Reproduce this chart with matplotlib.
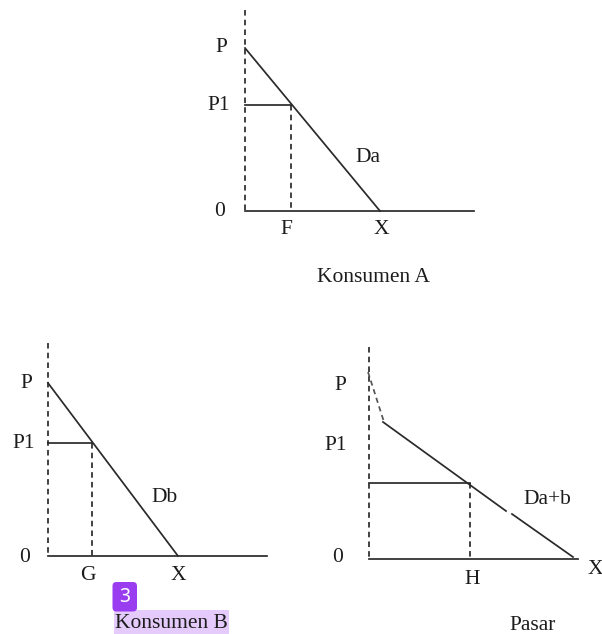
import matplotlib
matplotlib.use("Agg")
import matplotlib.pyplot as plt
from matplotlib.patches import FancyBboxPatch, Rectangle

# Each panel: vertical axis x, axis top, baseline y, P start y, P1 y, P1 foot x, end x of demand, end x of baseline
panel_a_axis = [245, 10, 211, 474]
panel_a_demand = [[245, 48], [380, 211]]
panel_a_p1 = [105, 291]
panel_b_axis = [48, 343, 556, 267]
panel_b_demand = [[48, 383], [178, 556]]
panel_b_p1 = [443, 92]
panel_c_axis = [369, 347, 559, 578]
panel_c_kink = [[368, 372], [384, 422]]
panel_c_demand = [[383, 422], [506, 511]]
panel_c_demand2 = [[512, 514], [573, 557]]
panel_c_p1 = [483, 470]

labels_a = [("P", 221, 48), ("P1", 219, 105), ("0", 220, 211), ("F", 286, 230),
            ("X", 381, 230), ("Da", 368, 157), ("Konsumen A", 373, 278)]
labels_b = [("P", 26, 383), ("P1", 24, 443), ("0", 25, 557), ("G", 88, 576),
            ("X", 178, 576), ("Db", 165, 498), ("Konsumen B", 171, 624)]
labels_c = [("P", 340, 386), ("P1", 336, 446), ("0", 338, 558), ("H", 472, 580),
            ("X", 595.5, 569), ("Da+b", 547, 499), ("Pasar", 533, 626)]

plt.rcParams['font.family'] = ['Liberation Serif', 'DejaVu Serif']

fig = plt.figure(figsize=(6.02, 6.34), dpi=100)
ax = fig.add_axes([0, 0, 1, 1])
ax.set_xlim(0, 602)
ax.set_ylim(634, 0)
ax.axis('off')

ink = '#2a2a2a'
lw = 1.25
dash = (0, (3.2, 2.4))


def draw_frame(axis, p1, demand=None):
    x0, top, base, right = axis
    ax.plot([x0, x0], [top, base], color=ink, lw=lw, ls=dash, zorder=2)
    ax.plot([x0, right], [base, base], color=ink, lw=lw, zorder=2)
    ax.plot([x0, p1[1]], [p1[0], p1[0]], color=ink, lw=lw, zorder=2)
    ax.plot([p1[1], p1[1]], [p1[0], base], color=ink, lw=lw, ls=dash, zorder=2)
    if demand:
        ax.plot(*zip(*demand), color=ink, lw=lw, zorder=2)


draw_frame(panel_a_axis, panel_a_p1, panel_a_demand)
draw_frame(panel_b_axis, panel_b_p1, panel_b_demand)
draw_frame(panel_c_axis, panel_c_p1)

# Pasar: dashed top part, then the line with a small gap
ax.plot(*zip(*panel_c_kink), color='#555555', lw=lw, ls=(0, (3, 2.2)), zorder=2)
ax.plot(*zip(*panel_c_demand), color=ink, lw=lw, zorder=2)
ax.plot(*zip(*panel_c_demand2), color=ink, lw=lw, zorder=2)

# highlight behind Konsumen B and the purple badge
ax.add_patch(Rectangle((114, 610), 115, 24, color='#e4cbfb', lw=0, zorder=1))
ax.add_patch(FancyBboxPatch((112.5, 582), 24.5, 29.5, boxstyle="round,pad=0,rounding_size=4",
                            fc='#9a3df0', ec='none', zorder=3))
ax.text(124.5, 597, "3", color='white', fontsize=14, family='Noto Sans',
        ha='center', va='center', zorder=4)

for lab, x, y in labels_a + labels_b + labels_c:
    ax.text(x, y, lab, color='#1c1c1c', fontsize=15.5, ha='center', va='center', zorder=4)

fig.savefig("out.png", dpi=100)
